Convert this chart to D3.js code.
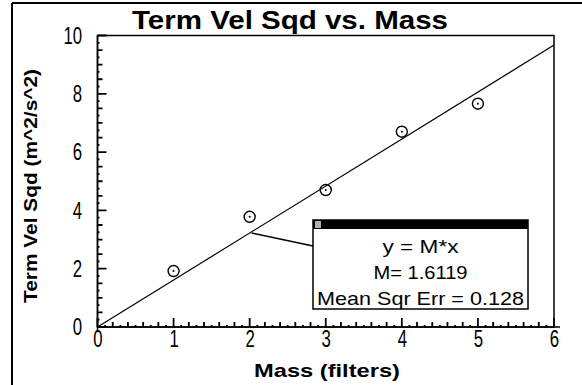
<!DOCTYPE html>
<html><head><meta charset="utf-8">
<script src="https://cdn.jsdelivr.net/npm/d3@7"></script>
<style>
html,body{margin:0;padding:0;background:#fff;}
svg{display:block;font-family:"Liberation Sans",Arial,sans-serif;}
</style></head>
<body>
<svg id="c" width="582" height="385"></svg>
<script>
const massX = [1, 2, 3, 4, 5];
const velSqdY = [1.92, 3.78, 4.70, 6.70, 7.66];
const slopeM = 1.6119;
const fitDomainX = [0, 6];
const xTickLabels = [0, 1, 2, 3, 4, 5, 6];
const yTickLabels = [0, 2, 4, 6, 8, 10];
const legendLines = ["y = M*x", "M= 1.6119", "Mean Sqr Err = 0.128"];
const titleText = "Term Vel Sqd vs. Mass";
const xLabelText = "Mass (filters)";
const yLabelText = "Term Vel Sqd (m^2/s^2)";

const svg = d3.select("#c");
const x = d3.scaleLinear().domain([0, 6]).range([97.5, 554]);
const y = d3.scaleLinear().domain([0, 10]).range([327, 35.5]);

svg.append("line").attr("x1",12).attr("y1",3).attr("x2",12).attr("y2",385).attr("stroke","#000").attr("stroke-width",2);
svg.append("line").attr("x1",12).attr("y1",3).attr("x2",582).attr("y2",3).attr("stroke","#000").attr("stroke-width",2);

svg.append("text").attr("x",290).attr("y",29).attr("text-anchor","middle")
  .attr("font-size",25).attr("font-weight","bold").attr("textLength",316).attr("lengthAdjust","spacingAndGlyphs")
  .text(titleText);

svg.append("rect").attr("x",x(0)).attr("y",y(10)).attr("width",x(6)-x(0)).attr("height",y(0)-y(10))
  .attr("fill","none").attr("stroke","#000").attr("stroke-width",1.5);

const xMicro = d3.range(0, 61).map(i => i / 10);
const yMicro = d3.range(0, 41).map(i => i / 4);
function tickPath(vals, lenFn, horiz){
  let d = "";
  vals.forEach((v,i)=>{
    const L = lenFn(i);
    if (horiz) d += `M${x(v)},${y(0)}V${y(0)-L}`;
    else d += `M${x(0)},${y(v)}H${x(0)+L}`;
  });
  return d;
}
svg.append("path").attr("d", tickPath(xMicro, i => i%10===0 ? 9 : (i%2===0 ? 5 : 2), true))
  .attr("fill","none").attr("stroke","#000").attr("stroke-width",1.8);
svg.append("path").attr("d", tickPath(yMicro, i => i%8===0 ? 9 : (i%2===0 ? 5 : 2), false))
  .attr("fill","none").attr("stroke","#000").attr("stroke-width",1.8);

const xAxis = svg.append("g").attr("transform",`translate(0,${y(0)})`)
  .call(d3.axisBottom(x).tickValues(xTickLabels).tickSize(0).tickPadding(3).tickFormat(d3.format("d")));
xAxis.select(".domain").attr("stroke","#000").attr("stroke-width",1.5).attr("d",`M${x(0)},0H${x(6)+6}`);
xAxis.selectAll(".tick text").style("font-size","24px").attr("fill","#000")
  .attr("transform","scale(0.7,1)");
const yAxis = svg.append("g").attr("transform",`translate(${x(0)},0)`)
  .call(d3.axisLeft(y).tickValues(yTickLabels).tickSize(0).tickPadding(22).tickFormat(d3.format("d")));
yAxis.select(".domain").attr("stroke","#000").attr("stroke-width",1.5).attr("d",`M0,${y(10)}V${y(0)+5}`);
yAxis.selectAll(".tick text").style("font-size","24px").attr("fill","#000")
  .attr("transform","scale(0.7,1)");

svg.append("text").attr("x",327).attr("y",377).attr("text-anchor","middle")
  .attr("font-size",19).attr("font-weight","bold").attr("textLength",146).attr("lengthAdjust","spacingAndGlyphs")
  .text(xLabelText);
svg.append("text").attr("transform","translate(37,186) rotate(-90)").attr("text-anchor","middle")
  .attr("font-size",18).attr("font-weight","bold").attr("textLength",234).attr("lengthAdjust","spacingAndGlyphs")
  .text(yLabelText);

svg.append("line").attr("x1",x(fitDomainX[0])).attr("y1",y(slopeM*fitDomainX[0]))
  .attr("x2",x(fitDomainX[1])).attr("y2",y(slopeM*fitDomainX[1]))
  .attr("stroke","#000").attr("stroke-width",1.2);

const pts = svg.append("g");
massX.forEach((m,i)=>{
  pts.append("circle").attr("cx",x(m)).attr("cy",y(velSqdY[i])).attr("r",5.5)
    .attr("fill","none").attr("stroke","#000").attr("stroke-width",1.4);
  pts.append("circle").attr("cx",x(m)).attr("cy",y(velSqdY[i])).attr("r",1).attr("fill","#000");
});

const bx=313, by=220, bw=215, bh=89;
svg.append("line").attr("x1",x(2)+2).attr("y1",y(slopeM*2)).attr("x2",bx).attr("y2",246)
  .attr("stroke","#000").attr("stroke-width",1.5);
svg.append("rect").attr("x",bx).attr("y",by).attr("width",bw).attr("height",bh)
  .attr("fill","#fff").attr("stroke","#000").attr("stroke-width",1.5);
svg.append("rect").attr("x",bx).attr("y",by).attr("width",bw).attr("height",9).attr("fill","#000");
svg.append("rect").attr("x",bx+2).attr("y",by+1).attr("width",6).attr("height",7).attr("fill","#b0b0b0");
const lw=[76,94,207];
legendLines.forEach((t,i)=>{
  svg.append("text").attr("x",bx+bw/2).attr("y",253+i*26).attr("text-anchor","middle")
    .attr("font-size",19).attr("textLength",lw[i]).attr("lengthAdjust","spacingAndGlyphs").text(t);
});
</script>
</body></html>
